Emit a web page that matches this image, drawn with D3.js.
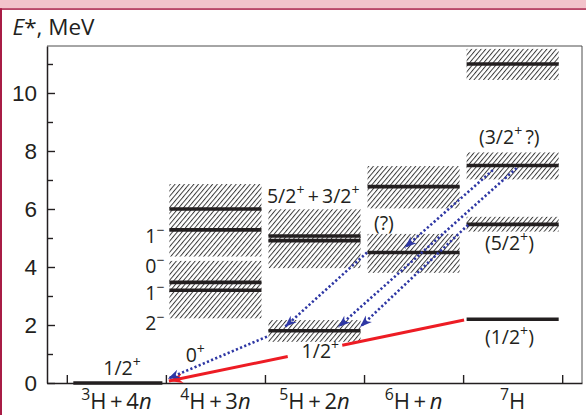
<!DOCTYPE html>
<html>
<head>
<meta charset="utf-8">
<script src="https://cdn.jsdelivr.net/npm/d3@7"></script>
<style>
  html, body { margin: 0; padding: 0; background: #fff; }
  svg { display: block; font-family: "Open Sans", "Noto Sans", sans-serif; }
</style>
</head>
<body>
<svg id="chart" width="586" height="415"></svg>
<script>
// Decay channels: mass number of the hydrogen isotope and the number of free neutrons
const massNumbers = [3, 4, 5, 6, 7];
const freeNeutrons = [4, 3, 2, 1, 0];

// Energy axis ticks (MeV)
const yMajorTicks = [0, 2, 4, 6, 8, 10];
const yMinorTicks = [1, 3, 5, 7, 9, 11];

// Level energies (MeV) in each channel column
const levels = [
  { col: 0, E: 0 },
  { col: 1, E: 6.0 }, { col: 1, E: 5.28 }, { col: 1, E: 3.47 }, { col: 1, E: 3.2 },
  { col: 2, E: 5.07 }, { col: 2, E: 4.91 }, { col: 2, E: 1.8 },
  { col: 3, E: 6.77 }, { col: 3, E: 4.5 },
  { col: 4, E: 11.0 }, { col: 4, E: 7.5 }, { col: 4, E: 5.47 }, { col: 4, E: 2.2 }
];

// Resonance widths drawn as hatched energy bands (MeV)
const widths = [
  { col: 1, lo: 4.36, hi: 6.86 }, { col: 1, lo: 2.23, hi: 4.21 },
  { col: 2, lo: 3.96, hi: 5.99 }, { col: 2, lo: 1.42, hi: 2.17 },
  { col: 3, lo: 6.02, hi: 7.48 }, { col: 3, lo: 3.80, hi: 5.14 },
  { col: 4, lo: 10.45, hi: 11.52 }, { col: 4, lo: 7.02, hi: 7.95 }, { col: 4, lo: 5.22, hi: 5.73 }
];

// Spin-parity labels ("^x" = superscript x), placed at (channel coordinate, energy)
const spinLabels = [
  { text: "1/2^+", k: 0.557, E: 0.28, anchor: "middle" },
  { text: "1^\u2212", k: 0.985, E: 4.82, anchor: "end" },
  { text: "0^\u2212", k: 0.985, E: 3.80, anchor: "end" },
  { text: "1^\u2212", k: 0.985, E: 2.86, anchor: "end" },
  { text: "2^\u2212", k: 0.985, E: 1.83, anchor: "end" },
  { text: "0^+", k: 1.20, E: 0.73, anchor: "start" },
  { text: "5/2^+\u2009+\u20093/2^+", k: 2.02, E: 6.2, anchor: "start" },
  { text: "(?)", k: 3.10, E: 5.26, anchor: "start" },
  { text: "(3/2^+\u2009?)", k: 4.16, E: 8.24, anchor: "start" },
  { text: "(5/2^+)", k: 4.22, E: 4.57, anchor: "start" },
  { text: "(1/2^+)", k: 4.22, E: 1.33, anchor: "start" },
  { text: "1/2^+", k: 2.37, E: 0.85, anchor: "start" }
];

// Sequential neutron-emission paths (dotted), [channel coordinate, energy]
const neutronDecays = [
  { from: [2.02, 1.60], to: [1.02, 0.15] },
  { from: [3.03, 4.50], to: [2.20, 1.93] },
  { from: [4.30, 7.34], to: [3.41, 4.66] },
  { from: [4.54, 7.41], to: [2.74, 1.93] },
  { from: [4.05, 5.45], to: [2.96, 1.93] }
];

// Direct decay of the 7H ground state to 3H + 4n, interrupted around its label
const directDecay = { from: [4.01, 2.17], to: [1.03, 0.07], gap: [2.23, 2.78] };

// ---------------------------------------------------------------------------
const svg = d3.select("#chart");
const W = 586, H = 415;
const margin = { left: 47, right: 4, top: 46, bottom: 32 };
const ink = "#231f20";

const x = d3.scaleLinear().domain([-0.2, 5.2]).range([margin.left, W - margin.right]);
const y = d3.scaleLinear().domain([0, 11.62]).range([H - margin.bottom, margin.top]);

// page decoration: band on top and rule on the left
svg.append("rect").attr("x", 0).attr("y", 0).attr("width", W).attr("height", 8.5).attr("fill", "#f2c3cb");
svg.append("rect").attr("x", 0).attr("y", 8.3).attr("width", W).attr("height", 1.5).attr("fill", "#a81c45");
svg.append("rect").attr("x", 0).attr("y", 8.3).attr("width", 2).attr("height", H).attr("fill", "#a81c45");

const defs = svg.append("defs");
defs.append("pattern")
  .attr("id", "hatch").attr("patternUnits", "userSpaceOnUse")
  .attr("width", 3.6).attr("height", 10)
  .attr("patternTransform", "rotate(40)")
  .append("line").attr("x1", 0.5).attr("x2", 0.5).attr("y1", 0).attr("y2", 10)
  .attr("stroke", "#333").attr("stroke-width", 0.95);

function arrowMarker(id, color, len, half) {
  defs.append("marker")
    .attr("id", id).attr("markerUnits", "userSpaceOnUse")
    .attr("viewBox", `${-len - 1} ${-half - 1} ${len + 2} ${2 * half + 2}`)
    .attr("refX", 0).attr("refY", 0)
    .attr("markerWidth", len + 2).attr("markerHeight", 2 * half + 2)
    .attr("orient", "auto")
    .append("path")
    .attr("d", `M0,0 L${-len},${-half} L${-len * 0.7},0 L${-len},${half} Z`)
    .attr("fill", color);
}
const blue = "#2e37a4", red = "#ed1c24";
arrowMarker("headBlue", blue, 12, 4.5);
arrowMarker("headRed", red, 14, 5);

// frame: top and right sides
svg.append("path")
  .attr("d", `M${margin.left},${margin.top} H${W - margin.right} V${H - margin.bottom}`)
  .attr("fill", "none").attr("stroke", "#4d4d4d").attr("stroke-width", 1);

// y axis, ticks pointing inward
const yAxis = svg.append("g").attr("transform", `translate(${margin.left},0)`);
yAxis.call(d3.axisLeft(y).tickValues(yMajorTicks).tickSizeInner(-8).tickSizeOuter(0).tickPadding(10));
yAxis.append("g").call(d3.axisLeft(y).tickValues(yMinorTicks).tickSizeInner(-6).tickSizeOuter(0).tickFormat(""))
  .select(".domain").remove();
yAxis.selectAll("path.domain").attr("stroke", ink).attr("stroke-width", 1.5);
yAxis.selectAll(".tick line").attr("stroke", ink).attr("stroke-width", 1.4);
yAxis.selectAll(".tick text").attr("fill", ink).attr("font-size", 22.5).attr("font-family", null);

// x axis: channel boundaries, ticks pointing inward
const xAxis = svg.append("g").attr("transform", `translate(0,${y(0)})`);
xAxis.call(d3.axisBottom(x).tickValues(d3.range(0, 6)).tickSizeInner(-8).tickSizeOuter(0).tickFormat(""));
xAxis.select(".domain").attr("stroke", ink).attr("stroke-width", 1.5);
xAxis.selectAll(".tick line").attr("stroke", ink).attr("stroke-width", 1.4);

// rich text helper: "^c" raises c as a superscript, "_c" sets c in italics
function rich(sel, str, fs) {
  const re = /(\^.|_.|[^\^_]+)/gu;
  let m, raised = false;
  while ((m = re.exec(str))) {
    const tok = m[0];
    const ts = sel.append("tspan");
    if (tok[0] === "^") {
      ts.text(tok.slice(1)).attr("font-size", fs * 0.72).attr("dy", raised ? 0 : -fs * 0.42);
      raised = true;
    } else {
      ts.text(tok[0] === "_" ? tok.slice(1) : tok).attr("dy", raised ? fs * 0.42 : 0);
      if (tok[0] === "_") ts.attr("font-style", "italic");
      raised = false;
    }
  }
}

// axis title
const title = svg.append("text").attr("x", 12.5).attr("y", 35).attr("font-size", 22.5).attr("fill", ink);
rich(title, "_E*, MeV", 22.5);

// channel labels
massNumbers.forEach((A, i) => {
  const n = freeNeutrons[i];
  let s = `^${A}H`;
  if (n > 0) s += `\u2009+\u2009${n > 1 ? n : ""}_n`;
  const t = svg.append("text")
    .attr("x", x(i + 0.5)).attr("y", 409)
    .attr("text-anchor", "middle").attr("font-size", 22).attr("fill", ink);
  rich(t, s, 22);
});

// resonance widths
const inset = 3.5;
svg.append("g").selectAll("rect").data(widths).join("rect")
  .attr("x", d => x(d.col) + inset)
  .attr("width", d => x(d.col + 1) - x(d.col) - 2 * inset)
  .attr("y", d => y(d.hi))
  .attr("height", d => y(d.lo) - y(d.hi))
  .attr("fill", "url(#hatch)");

// levels
svg.append("g").selectAll("line").data(levels).join("line")
  .attr("x1", d => x(d.col) + (d.col === 0 ? 6.5 : inset))
  .attr("x2", d => x(d.col + 1) - inset)
  .attr("y1", d => y(d.E)).attr("y2", d => y(d.E))
  .attr("stroke", ink).attr("stroke-width", 3.6);

// direct decay line (red), broken around its label
{
  const [k0, E0] = directDecay.from, [k1, E1] = directDecay.to;
  const Eat = k => E0 + (E1 - E0) * (k - k0) / (k1 - k0);
  const [g0, g1] = directDecay.gap;
  const g = svg.append("g").attr("stroke", red).attr("stroke-width", 3).attr("fill", "none");
  g.append("line").attr("x1", x(k0)).attr("y1", y(E0)).attr("x2", x(g1)).attr("y2", y(Eat(g1)));
  g.append("line").attr("x1", x(g0)).attr("y1", y(Eat(g0))).attr("x2", x(k1)).attr("y2", y(E1))
    .attr("marker-end", "url(#headRed)");
}

// neutron emission paths (blue, dotted)
svg.append("g").selectAll("line").data(neutronDecays).join("line")
  .attr("x1", d => x(d.from[0])).attr("y1", d => y(d.from[1]))
  .attr("x2", d => x(d.to[0])).attr("y2", d => y(d.to[1]))
  .attr("stroke", blue).attr("stroke-width", 2.6)
  .attr("stroke-dasharray", "2.2 2.3")
  .attr("marker-end", "url(#headBlue)");

// spin-parity labels
spinLabels.forEach(d => {
  const t = svg.append("text")
    .attr("x", x(d.k)).attr("y", y(d.E))
    .attr("text-anchor", d.anchor).attr("font-size", 19.5).attr("fill", ink);
  rich(t, d.text, 19.5);
});
</script>
</body>
</html>
